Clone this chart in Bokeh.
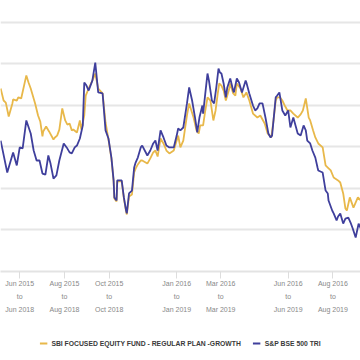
import pandas as pd
from bokeh.plotting import figure
from bokeh.layouts import column
from bokeh.models import Range1d, FixedTicker, Legend, LegendItem, Grid, ColumnDataSource
from bokeh.embed import file_html
from bokeh.resources import INLINE

# S&P BSE 500 TRI (rolling return, %)
index_dates = ["2015-05-06","2015-05-15","2015-05-23","2015-05-28","2015-06-01","2015-06-05","2015-06-10",
    "2015-06-16","2015-06-20","2015-06-24","2015-06-28","2015-07-02","2015-07-06","2015-07-10","2015-07-13",
    "2015-07-17","2015-07-21","2015-07-25","2015-07-31","2015-08-04","2015-08-08","2015-08-11","2015-08-15",
    "2015-08-18","2015-08-22","2015-08-26","2015-08-28","2015-08-31","2015-09-03","2015-09-08","2015-09-12",
    "2015-09-16","2015-09-22","2015-09-26","2015-09-30","2015-10-04","2015-10-07","2015-10-08","2015-10-11",
    "2015-10-12","2015-10-18","2015-10-21","2015-10-24","2015-10-25","2015-10-28","2015-11-01","2015-11-04",
    "2015-11-06","2015-11-09","2015-11-13","2015-11-15","2015-11-22","2015-11-26","2015-11-30","2015-12-03",
    "2015-12-06","2015-12-10","2015-12-14","2015-12-18","2015-12-22","2015-12-28","2016-01-01","2016-01-03",
    "2016-01-06","2016-01-10","2016-01-15","2016-01-18","2016-01-22","2016-01-26","2016-01-29","2016-02-01",
    "2016-02-05","2016-02-06","2016-02-09","2016-02-12","2016-02-14","2016-02-18","2016-02-21","2016-02-24",
    "2016-02-27","2016-02-29","2016-03-02","2016-03-05","2016-03-08","2016-03-10","2016-03-14","2016-03-18",
    "2016-03-19","2016-03-23","2016-03-26","2016-03-30","2016-04-04","2016-04-05","2016-04-09","2016-04-14",
    "2016-04-17","2016-04-20","2016-04-23","2016-04-27","2016-05-01","2016-05-05","2016-05-08","2016-05-10",
    "2016-05-15","2016-05-17","2016-05-20","2016-05-24","2016-05-28","2016-06-01","2016-06-04","2016-06-08",
    "2016-06-14","2016-06-18","2016-06-22","2016-06-25","2016-06-27","2016-07-01","2016-07-04","2016-07-08",
    "2016-07-11","2016-07-12","2016-07-18","2016-07-22","2016-07-25","2016-07-26","2016-07-31","2016-08-02",
    "2016-08-06","2016-08-08","2016-08-11","2016-08-15","2016-08-18","2016-08-22","2016-08-25","2016-08-28",
    "2016-09-01","2016-09-05","2016-09-08"]
index_values = [10.31,8.77,9.74,9.11,9.98,9.93,11.28,
    10.65,9.83,9.35,9.35,8.72,8.67,9.59,9.20,
    8.48,8.63,9.35,10.17,9.98,9.74,9.69,9.98,
    10.07,10.41,11.04,13.11,12.96,12.72,13.20,14.07,
    12.63,12.58,10.80,10.41,9.49,8.39,7.57,7.42,
    8.39,8.39,7.57,6.94,6.80,7.76,7.90,9.01,
    9.25,9.49,9.98,10.07,9.59,9.83,10.17,10.31,
    9.83,10.80,10.46,10.07,9.98,9.98,10.55,10.89,
    10.80,10.94,12.10,12.87,12.24,11.42,10.70,11.42,
    12.00,11.61,12.58,13.54,13.20,12.24,12.10,12.87,
    13.78,13.59,13.54,13.06,12.39,12.87,13.30,12.72,
    12.63,13.30,13.11,12.63,13.20,13.11,12.58,12.00,
    11.76,11.86,12.10,12.10,11.42,10.65,10.46,10.55,
    12.39,12.48,12.63,11.76,11.52,11.76,10.94,11.42,
    10.65,10.55,11.04,10.80,10.31,10.17,9.83,9.49,
    9.01,8.87,8.77,7.90,7.76,7.42,6.94,6.80,
    6.46,6.65,6.80,6.31,6.55,6.60,6.36,6.07,
    5.64,6.31,6.07]

# SBI Focused Equity Fund - Regular Plan - Growth (rolling return, %)
fund_dates = ["2015-05-06","2015-05-10","2015-05-13","2015-05-17","2015-05-22","2015-05-23","2015-05-28",
    "2015-05-30","2015-06-03","2015-06-10","2015-06-13","2015-06-16","2015-06-18","2015-06-22","2015-06-26",
    "2015-06-29","2015-07-02","2015-07-03","2015-07-07","2015-07-11","2015-07-17","2015-07-19","2015-07-22",
    "2015-07-25","2015-07-29","2015-08-02","2015-08-05","2015-08-08","2015-08-11","2015-08-13","2015-08-18",
    "2015-08-22","2015-08-24","2015-08-28","2015-08-30","2015-09-03","2015-09-08","2015-09-12","2015-09-16",
    "2015-09-22","2015-09-26","2015-09-30","2015-10-04","2015-10-07","2015-10-08","2015-10-11","2015-10-12",
    "2015-10-18","2015-10-21","2015-10-24","2015-10-25","2015-10-28","2015-11-01","2015-11-04","2015-11-06",
    "2015-11-09","2015-11-13","2015-11-15","2015-11-22","2015-11-26","2015-11-30","2015-12-03","2015-12-06",
    "2015-12-10","2015-12-14","2015-12-18","2015-12-22","2015-12-28","2016-01-01","2016-01-03","2016-01-06",
    "2016-01-10","2016-01-15","2016-01-18","2016-01-24","2016-01-28","2016-01-31","2016-02-02","2016-02-06",
    "2016-02-09","2016-02-12","2016-02-16","2016-02-20","2016-02-23","2016-02-26","2016-02-28","2016-03-02",
    "2016-03-05","2016-03-08","2016-03-12","2016-03-14","2016-03-18","2016-03-21","2016-03-23","2016-03-28",
    "2016-04-01","2016-04-05","2016-04-09","2016-04-14","2016-04-20","2016-04-24","2016-04-30","2016-05-04",
    "2016-05-09","2016-05-12","2016-05-15","2016-05-17","2016-05-21","2016-05-24","2016-05-28","2016-05-31",
    "2016-06-04","2016-06-08","2016-06-14","2016-06-18","2016-06-21","2016-06-25","2016-06-29","2016-07-01",
    "2016-07-05","2016-07-08","2016-07-12","2016-07-18","2016-07-22","2016-07-25","2016-07-29","2016-08-02",
    "2016-08-04","2016-08-08","2016-08-11","2016-08-15","2016-08-18","2016-08-20","2016-08-24","2016-08-29",
    "2016-09-04","2016-09-08"]
fund_values = [12.82,12.24,12.14,11.47,12.10,12.29,12.24,
    12.39,12.34,13.45,13.11,12.82,12.58,12.10,11.52,
    11.23,10.51,10.75,10.99,10.75,10.36,10.46,10.55,
    10.84,11.86,11.28,11.08,11.13,10.80,10.84,10.70,
    11.28,10.84,11.52,12.48,12.82,13.20,13.54,12.82,
    12.58,11.18,10.36,9.45,8.34,7.52,7.37,8.34,
    8.34,7.52,6.89,6.75,7.61,7.71,8.77,8.96,
    9.16,9.35,9.35,9.20,9.45,9.74,9.83,9.54,
    10.41,10.17,9.83,9.69,9.83,10.31,10.55,9.98,
    10.31,11.52,12.10,11.42,10.80,10.65,11.04,11.04,
    11.76,12.39,12.24,11.28,11.76,12.58,13.06,12.96,
    12.72,12.24,12.72,13.06,12.58,12.48,13.06,12.82,
    12.39,12.63,12.24,11.61,11.42,11.52,11.13,10.65,
    10.46,11.28,12.24,12.39,12.39,12.24,11.95,11.76,
    11.76,11.61,11.42,11.57,11.76,12.34,11.42,11.28,
    10.80,10.46,10.17,9.98,9.11,9.01,8.87,8.53,
    8.48,8.39,8.29,7.76,7.04,6.94,7.57,7.08,
    7.57,7.42]

tick_dates = ["2015-06-01", "2015-08-01", "2015-10-01", "2016-01-01", "2016-03-01", "2016-06-01", "2016-08-01"]
tick_labels = ["Jun 2015\nto\nJun 2018", "Aug 2015\nto\nAug 2018", "Oct 2015\nto\nOct 2018",
               "Jan 2016\nto\nJan 2019", "Mar 2016\nto\nMar 2019", "Jun 2016\nto\nJun 2019",
               "Aug 2016\nto\nAug 2019"]
grid_values = [4, 6, 8, 10, 12, 14, 16]

fund_name = "SBI FOCUSED EQUITY FUND - REGULAR PLAN -GROWTH"
index_name = "S&P BSE 500 TRI"
GOLD = "#e8b84a"
BLUE = "#3f3f9c"
FONT = "Liberation Sans"

x_start = pd.Timestamp("2015-05-05 19:00")
x_end = pd.Timestamp("2016-09-07 14:00")

p = figure(frame_width=360, frame_height=271, output_backend="svg", toolbar_location=None,
           x_axis_type="datetime", y_axis_location=None,
           x_range=Range1d(x_start, x_end), y_range=Range1d(4, 17.06),
           min_border_left=0, min_border_right=0, min_border_top=0, min_border_bottom=0)
p.outline_line_color = None
p.background_fill_color = "white"
p.border_fill_color = "white"
p.grid.visible = False
p.add_layout(Grid(dimension=1, ticker=FixedTicker(ticks=grid_values),
                  grid_line_color="#e6e6e6", grid_line_width=2))

fund_src = ColumnDataSource(dict(x=pd.to_datetime(fund_dates), y=fund_values))
index_src = ColumnDataSource(dict(x=pd.to_datetime(index_dates), y=index_values))
p.line("x", "y", source=fund_src, line_color=GOLD, line_width=1.8)
p.line("x", "y", source=index_src, line_color=BLUE, line_width=1.8)

tick_ms = [pd.Timestamp(d).value / 1e6 for d in tick_dates]
ax = p.xaxis[0]
ax.ticker = FixedTicker(ticks=tick_ms)
ax.major_label_overrides = {t: lab for t, lab in zip(tick_ms, tick_labels)}
ax.axis_line_color = "#e3e3e3"
ax.axis_line_width = 2
ax.major_tick_line_color = "#dddddd"
ax.major_tick_in = 0
ax.major_tick_out = 7
ax.minor_tick_line_color = None
ax.major_label_standoff = 1
ax.major_label_text_font = FONT
ax.major_label_text_font_size = "7px"
ax.major_label_text_color = "#888888"
ax.major_label_text_line_height = 1.9

# legend strip under the chart (proxy renderers carry only the series styles)
q = figure(width=360, height=54, output_backend="svg", toolbar_location=None,
           x_axis_location=None, y_axis_location=None,
           x_range=Range1d(0, 1), y_range=Range1d(0, 1),
           min_border_left=0, min_border_right=0, min_border_top=0, min_border_bottom=0)
q.outline_line_color = None
q.grid.visible = False
nan = float("nan")
q_fund = q.line(x=[nan, nan], y=[nan, nan], line_color=GOLD, line_width=2)
q_index = q.line(x=[nan, nan], y=[nan, nan], line_color=BLUE, line_width=2)
legend = Legend(items=[LegendItem(label=fund_name, renderers=[q_fund]),
                       LegendItem(label=index_name, renderers=[q_index])],
                orientation="horizontal", location="center",
                border_line_color=None, background_fill_alpha=0,
                label_text_font=FONT, label_text_font_style="bold",
                label_text_font_size="6.8px", label_text_color="#3a3a3a",
                glyph_width=8, glyph_height=8, label_height=10, label_standoff=4,
                spacing=12, padding=0, margin=0)
q.add_layout(legend)

layout = column(p, q, spacing=0)
open("out.html", "w").write(file_html(layout, INLINE))
